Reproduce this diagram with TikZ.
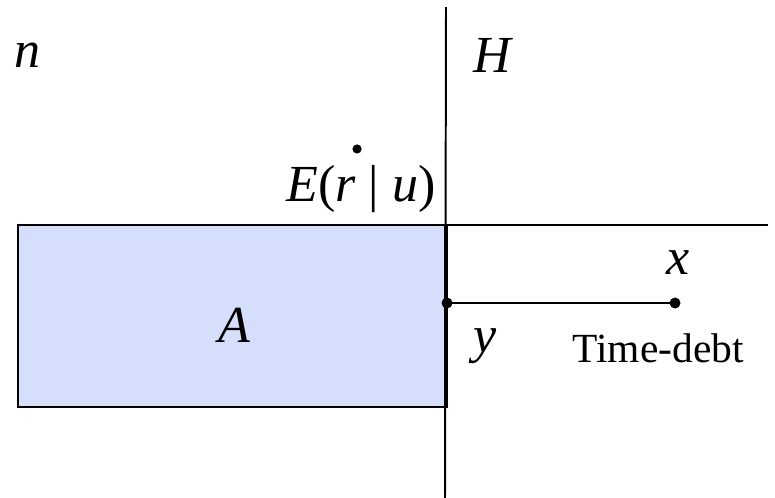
\documentclass[tikz,border=0pt]{standalone}
\usepackage{fontspec}
\setmainfont{Liberation Serif}
\definecolor{areafill}{HTML}{D5DFFB}
\begin{document}
\begin{tikzpicture}[x=0.025cm, y=-0.025cm, line cap=rect,
	lbl/.style={font=\fontsize{37}{40}\selectfont\itshape, anchor=base, inner sep=0pt},
	note/.style={font=\fontsize{29.5}{32}\selectfont, anchor=base, inner sep=0pt},
	dot/.style={fill=black}]
	\useasboundingbox (0,0) rectangle (775,498);
	
	% 区域 A (浅蓝矩形)
	\draw[fill=areafill, line width=1pt] (18,225) rectangle (446,407);
	\node[lbl] (A) at (234,342) {A};
	
	% 坐标轴
	\coordinate (Htop) at (446,8);
	\coordinate (Hbot) at (445,498);
	\coordinate (Hleft) at (33,225);
	\coordinate (Hright) at (767,225);
	\draw[line width=1.4pt] (Htop) -- (Hbot);
	\draw[line width=1.4pt] (Hleft) -- (Hright);
	\draw[line width=2.6pt, line cap=butt] (446,225) -- (446,408);
	\node[lbl] (H) at (492,73) {H};
	\node[lbl] (n) at (28,68) {n};
	
	% 点 E(r|u)
	\coordinate (E) at (357,149);
	\fill[dot] (E) circle (4.6);
	\node[lbl] (Elbl) at (361,202) {E\upshape(\itshape r \upshape| \itshape u\upshape)};
	
	% 线段 y -- x
	\coordinate (y) at (447,303);
	\coordinate (x) at (675,303);
	\draw[line width=1.4pt] (y) -- (x);
	\fill[dot] (y) circle (5.5);
	\fill[dot] (x) circle (5.5);
	\node[lbl] (xlbl) at (678,275) {x};
	\node[lbl] (ylbl) at (485,352) {y};
	\node[note] (debt) at (658,362) {Time-debt};
\end{tikzpicture}
\end{document}
